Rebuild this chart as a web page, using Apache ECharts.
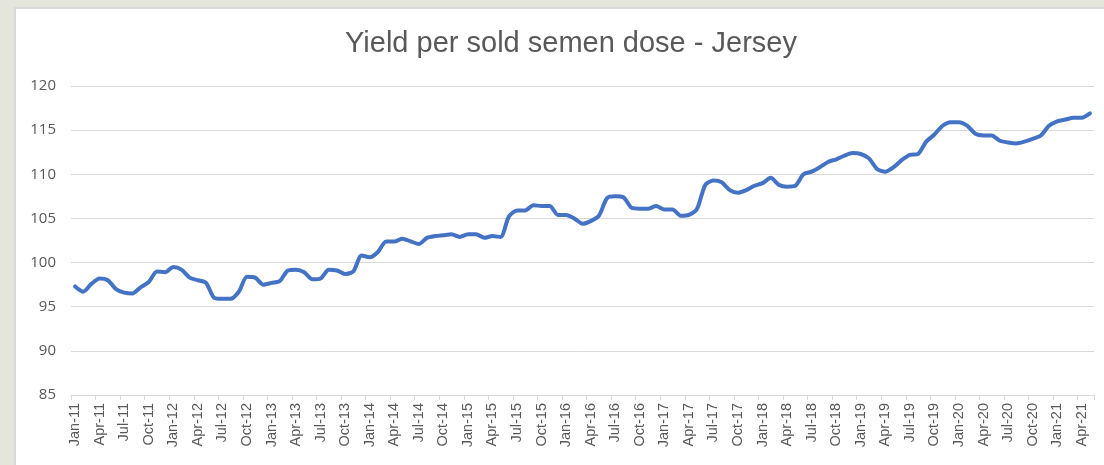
<!DOCTYPE html>
<html>
<head>
<meta charset="utf-8">
<script src="https://cdn.jsdelivr.net/npm/echarts@6/dist/echarts.min.js"></script>
<style>
  html, body { margin: 0; padding: 0; width: 1104px; height: 465px; background: #e4e6db; overflow: hidden; }
  #panel { position: absolute; left: 14px; top: 7px; width: 1090px; height: 458px; background: #ffffff; border-left: 2px solid #d9d9d9; border-top: 2px solid #d9d9d9; box-sizing: border-box; }
  #chart { position: absolute; left: 0; top: 0; width: 1104px; height: 465px; }
</style>
</head>
<body>
<div id="panel"></div>
<div id="chart"></div>
<script>
const titleText = 'Yield per sold semen dose - Jersey';

const categories = [
  'Jan-11','Feb-11','Mar-11','Apr-11','May-11','Jun-11','Jul-11','Aug-11','Sep-11','Oct-11','Nov-11','Dec-11',
  'Jan-12','Feb-12','Mar-12','Apr-12','May-12','Jun-12','Jul-12','Aug-12','Sep-12','Oct-12','Nov-12','Dec-12',
  'Jan-13','Feb-13','Mar-13','Apr-13','May-13','Jun-13','Jul-13','Aug-13','Sep-13','Oct-13','Nov-13','Dec-13',
  'Jan-14','Feb-14','Mar-14','Apr-14','May-14','Jun-14','Jul-14','Aug-14','Sep-14','Oct-14','Nov-14','Dec-14',
  'Jan-15','Feb-15','Mar-15','Apr-15','May-15','Jun-15','Jul-15','Aug-15','Sep-15','Oct-15','Nov-15','Dec-15',
  'Jan-16','Feb-16','Mar-16','Apr-16','May-16','Jun-16','Jul-16','Aug-16','Sep-16','Oct-16','Nov-16','Dec-16',
  'Jan-17','Feb-17','Mar-17','Apr-17','May-17','Jun-17','Jul-17','Aug-17','Sep-17','Oct-17','Nov-17','Dec-17',
  'Jan-18','Feb-18','Mar-18','Apr-18','May-18','Jun-18','Jul-18','Aug-18','Sep-18','Oct-18','Nov-18','Dec-18',
  'Jan-19','Feb-19','Mar-19','Apr-19','May-19','Jun-19','Jul-19','Aug-19','Sep-19','Oct-19','Nov-19','Dec-19',
  'Jan-20','Feb-20','Mar-20','Apr-20','May-20','Jun-20','Jul-20','Aug-20','Sep-20','Oct-20','Nov-20','Dec-20',
  'Jan-21','Feb-21','Mar-21','Apr-21','May-21'
];

const yieldValues = [
  97.3, 96.7, 97.6, 98.2, 98.0, 97.0, 96.6, 96.5, 97.2, 97.8, 99.0, 98.9,
  99.5, 99.2, 98.3, 98.0, 97.7, 96.0, 95.9, 95.9, 96.7, 98.4, 98.3, 97.5,
  97.7, 97.9, 99.1, 99.2, 98.9, 98.1, 98.2, 99.2, 99.1, 98.7, 99.0, 100.8,
  100.6, 101.2, 102.4, 102.4, 102.7, 102.4, 102.1, 102.8, 103.0, 103.1, 103.2, 102.9,
  103.2, 103.2, 102.8, 103.0, 102.9, 105.2, 105.9, 105.9, 106.5, 106.4, 106.4, 105.4,
  105.4, 105.0, 104.4, 104.7, 105.3, 107.3, 107.5, 107.4, 106.2, 106.1, 106.1, 106.4,
  106.0, 106.0, 105.3, 105.4, 106.1, 108.8, 109.3, 109.1, 108.2, 107.9, 108.2, 108.7,
  109.0, 109.6, 108.8, 108.6, 108.7, 110.0, 110.3, 110.8, 111.4, 111.7, 112.1, 112.4,
  112.3, 111.8, 110.6, 110.3, 110.8, 111.6, 112.2, 112.3, 113.7, 114.5, 115.5, 115.9,
  115.9, 115.5, 114.6, 114.4, 114.4, 113.8, 113.6, 113.5, 113.7, 114.0, 114.4, 115.5,
  116.0, 116.2, 116.4, 116.4, 116.9
];

const yMin = 85, yMax = 120, yStep = 5;

const chart = echarts.init(document.getElementById('chart'), null, { renderer: 'canvas' });
chart.setOption({
  backgroundColor: 'transparent',
  animation: false,
  title: {
    text: titleText,
    left: 566,
    top: 24,
    textAlign: 'center',
    textStyle: { fontFamily: 'Liberation Sans', fontSize: 29, fontWeight: 'normal', color: '#595959' }
  },
  grid: { left: 71, right: 10, top: 86, bottom: 70, containLabel: false },
  xAxis: {
    type: 'category',
    data: categories,
    boundaryGap: true,
    axisLine: { show: true, lineStyle: { color: '#d9d9d9', width: 1 } },
    axisTick: { show: true, interval: 2, length: 5, lineStyle: { color: '#d9d9d9' } },
    axisLabel: {
      interval: 2, rotate: 90, margin: 8,
      fontFamily: 'Liberation Sans', fontSize: 14.5, color: '#595959'
    },
    splitLine: { show: false }
  },
  yAxis: {
    type: 'value',
    min: yMin, max: yMax, interval: yStep,
    axisLine: { show: false },
    axisTick: { show: false },
    axisLabel: { margin: 15, fontFamily: 'Open Sans', fontSize: 15, color: '#595959' },
    splitLine: { show: true, lineStyle: { color: '#d9d9d9', width: 1 } }
  },
  series: [{
    type: 'line',
    data: yieldValues,
    showSymbol: false,
    smooth: 0.25,
    lineStyle: { color: '#4472c4', width: 4, cap: 'round', join: 'round' },
    itemStyle: { color: '#4472c4' }
  }]
});
</script>
</body>
</html>
